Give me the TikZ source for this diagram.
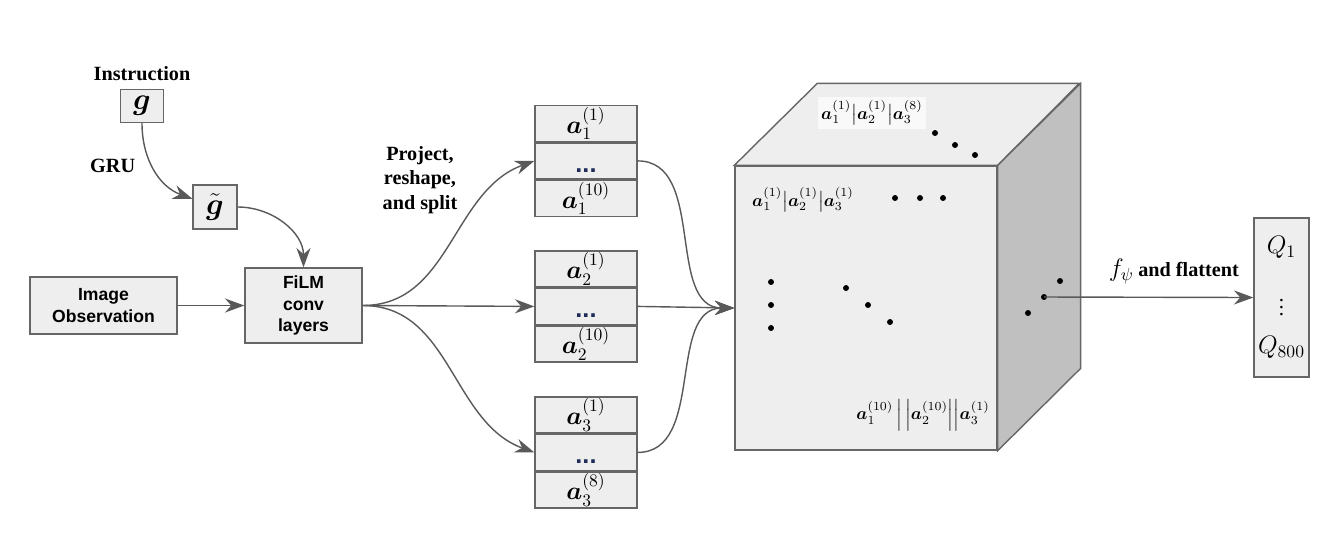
\documentclass[tikz,border=0pt]{standalone}
\usepackage{amsmath, amssymb}
\usepackage{fontspec}
\setmainfont{Liberation Serif}
\newfontfamily\arialfont{Liberation Sans}
\usetikzlibrary{positioning, arrows.meta}
\definecolor{boxfill}{HTML}{EEEEEE}
\definecolor{boxline}{HTML}{666666}
\definecolor{arrowgray}{HTML}{595959}
\definecolor{sidegray}{HTML}{C0C0C0}
\definecolor{dotblue}{HTML}{1F2D5A}
\tikzset{
>={Stealth[length=11pt,width=8pt]}, % big filled arrow heads
arr/.style={->, draw=arrowgray, line width=0.8pt},
box/.style={draw=boxline, fill=boxfill, line width=0.8pt, inner sep=0pt}, % all the gray boxes
cell/.style={box, minimum width=2.04cm, minimum height=0.72cm, font=\Large},
lbl/.style={font=\fontsize{11.5}{13.8}\selectfont\bfseries, align=center}, % bold serif labels
dot/.style={fill=black},
}
\newcommand{\va}{\boldsymbol{a}}
\newcommand{\stackdots}{\raisebox{-13pt}{\textcolor{dotblue}{\arialfont\bfseries\Large ...}}}

\begin{document}
\begin{tikzpicture}[x=0.02cm, y=-0.02cm]
\useasboundingbox (0,0) rectangle (1338,539);

% instruction branch
\node[box, minimum width=0.86cm, minimum height=0.66cm, font=\LARGE] (g) at (142,106) {$\boldsymbol{g}$};
\node[lbl, above=1pt of g] (instr) {Instruction};
\node[box, minimum width=0.88cm, minimum height=0.88cm, font=\LARGE] (gt) at (215,207) {$\tilde{\boldsymbol{g}}$};

% image branch
\node[box, minimum width=2.94cm, minimum height=1.14cm, font=\arialfont\bfseries, align=center] (img) at (103.5,305.5) {Image\\Observation};
\node[box, minimum width=2.34cm, minimum height=1.5cm, font=\arialfont\bfseries, align=center] (film) at (303.5,305.5) {FiLM\\conv\\layers};

% the three stacks
\node[cell] (s1top) at (586,123.5) {$\va_1^{(1)}$};
\node[cell, below=0pt of s1top] (s1mid) {\stackdots};
\node[cell, below=0pt of s1mid] (s1bot) {$\va_1^{(10)}$};

\node[cell] (s2top) at (586,269) {$\va_2^{(1)}$};
\node[cell, below=0pt of s2top] (s2mid) {\stackdots};
\node[cell, below=0pt of s2mid] (s2bot) {$\va_2^{(10)}$};

\node[cell] (s3top) at (586,415) {$\va_3^{(1)}$};
\node[cell, below=0pt of s3top] (s3mid) {\stackdots};
\node[cell, below=0pt of s3mid] (s3bot) {$\va_3^{(8)}$};

% the cube
\node[box, minimum width=5.24cm, minimum height=5.68cm] (cube) at (866,308) {};
\filldraw[draw=boxline, fill=boxfill, line width=0.8pt] (cube.north west) -- ++(83,-82) -- ++(262,0) -- (cube.north east) -- cycle;
\filldraw[draw=boxline, fill=sidegray, line width=0.8pt] (cube.north east) -- ++(83,-82) -- ++(0,285) -- (cube.south east) -- cycle;

\node[fill=gray!5, inner sep=2pt] (toptxt) at (872,113) {$\va_1^{(1)}\big|\va_2^{(1)}\big|\va_3^{(8)}$};
\node (fronttxt) at (803,200) {$\va_1^{(1)}\big|\va_2^{(1)}\big|\va_3^{(1)}$};
\node (bottxt) at (923,415) {$\va_1^{(10)}\,\Big|\,\Big|\va_2^{(10)}\Big|\Big|\va_3^{(1)}$};

\fill[dot] (935,133) circle[radius=1.7pt] (955,145) circle[radius=1.7pt] (975,155) circle[radius=1.7pt];
\fill[dot] (895,198) circle[radius=1.7pt] (920,198) circle[radius=1.7pt] (943,198) circle[radius=1.7pt];
\fill[dot] (771,282) circle[radius=1.7pt] (771,305) circle[radius=1.7pt] (771,328) circle[radius=1.7pt];
\fill[dot] (846,288) circle[radius=1.7pt] (868,305) circle[radius=1.7pt] (890,322) circle[radius=1.7pt];
\fill[dot] (1060,281) circle[radius=1.7pt] (1028,313) circle[radius=1.7pt];
\coordinate (fdot) at (1044,297);
\fill[dot] (fdot) circle[radius=1.7pt];

% output
\node[box, minimum width=1.1cm, minimum height=3.18cm, align=center] (q) at (1281.5,297.5) {{\Large $Q_1$}\\[16pt]{\large $\vdots$}\\[10pt]{\Large $Q_{800}$}};

% connections
\draw[arr] (g) to[out=-90, in=160] node[lbl, left=6pt, pos=0.45] (gru) {GRU} (gt);
\draw[arr] (gt.east) to[out=0, in=90] (film.north);
\draw[arr] (img) -- (film);
\node[lbl] (proj) at (420,180) {Project,\\reshape,\\and split};
\draw[arr] (film.east) to[out=0, in=200] (s1mid.west);
\draw[arr] (film.east) -- (s2mid.west);
\draw[arr] (film.east) to[out=0, in=160] (s3mid.west);
\draw[arr] (s1mid.east) to[out=0, in=180] (cube.west);
\draw[arr] (s2mid.east) -- (cube.west);
\draw[arr] (s3mid.east) to[out=0, in=180] (cube.west);
\draw[arr] (fdot) -- node[above=4pt, pos=0.62] (flat) {{\Large $f_\psi$} \textbf{\fontsize{11.5}{13.8}\selectfont and flattent}} (q.west);
\end{tikzpicture}
\end{document}
